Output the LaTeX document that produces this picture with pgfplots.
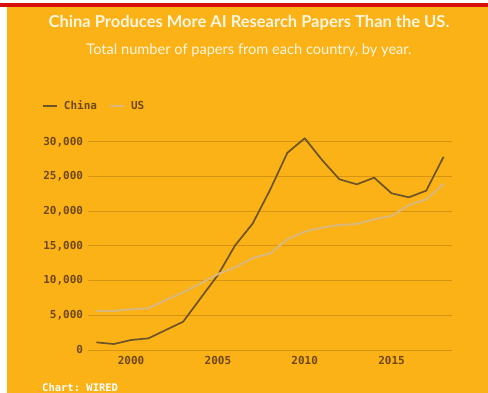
\documentclass[border=0pt]{standalone}
\usepackage{fontspec}
\setmainfont{Lato}
\setmonofont{DejaVu Sans Mono}
\usepackage{pgfplots}
\pgfplotsset{compat=1.18}
\definecolor{bgorange}{RGB}{250,178,22}
\definecolor{gridc}{RGB}{214,148,18}
\definecolor{tickc}{RGB}{112,72,22}
\definecolor{chinac}{RGB}{108,84,40}
\definecolor{usc}{RGB}{218,184,124}
\definecolor{redbar}{RGB}{214,16,10}
\definecolor{titlec}{RGB}{255,246,226}
\begin{document}
\begin{tikzpicture}[x=1pt,y=1pt]
\path[use as bounding box] (0,0) rectangle (488,393);
\fill[white] (0,0) rectangle (488,393);
\fill[bgorange] (7,0) rectangle (488,386);
\fill[redbar] (0,386) rectangle (488,389.5);
\node[text=titlec, font=\bfseries\fontsize{16.5}{19}\selectfont] at (249,370.3) {China Produces More AI Research Papers Than the US.};
\node[text=titlec, font=\fontsize{14.6}{17}\selectfont] at (249,342.3) {Total number of papers from each country, by year.};
\node[text=white, font=\ttfamily\bfseries\fontsize{10.5}{12}\selectfont, anchor=west, inner sep=0pt] at (42,5.3) {Chart: WIRED};
\begin{axis}[
  at={(87.7pt,43pt)}, anchor=south west, scale only axis,
  width=364.6pt, height=208.3pt,
  xmin=1997.5, xmax=2018.5, ymin=0, ymax=30000,
  clip=false,
  axis line style={draw=none},
  major tick length=0pt,
  xtick={2000,2005,2010,2015},
  ytick={0,5000,10000,15000,20000,25000,30000},
  ymajorgrids, grid style={color=gridc, line width=0.8pt},
  scaled y ticks=false,
  /pgf/number format/assume math mode=true,
  ticklabel style={font=\ttfamily\bfseries\fontsize{11}{13}\selectfont, text=tickc},
  yticklabel style={anchor=east, inner sep=0pt, xshift=-4.5pt, /pgf/number format/1000 sep={,}},
  xticklabel style={anchor=north, inner sep=0pt, yshift=-6.5pt, /pgf/number format/1000 sep={}},
  legend columns=2,
  legend style={at={(-0.1253,1.1728)}, anchor=west, draw=none, fill=none,
    font=\ttfamily\bfseries\fontsize{11}{13}\selectfont, text=tickc,
    inner sep=0pt, column sep=0pt,
    /tikz/every odd column/.append style={column sep=4pt},
    /tikz/every even column/.append style={column sep=10pt}},
  legend image code/.code={\draw[#1] (0pt,0pt) -- (14pt,0pt);},
]
\addplot[color=chinac, line width=1.7pt, line join=round] coordinates {
(1998,1100) (1999,860) (2000,1440) (2001,1680) (2002,2880) (2003,4080)
(2004,7450) (2005,10800) (2006,15100) (2007,18200) (2008,23040) (2009,28400)
(2010,30490) (2011,27360) (2012,24580) (2013,23860) (2014,24820) (2015,22570)
(2016,21990) (2017,22950) (2018,27840)};
\addlegendentry{China}
\addplot[color=usc, line width=2pt, line join=round] coordinates {
(1998,5620) (1999,5620) (2000,5860) (2001,6000) (2002,7200) (2003,8300)
(2004,9600) (2005,10940) (2006,11900) (2007,13250) (2008,13900) (2009,15940)
(2010,17040) (2011,17620) (2012,18000) (2013,18150) (2014,18820) (2015,19300)
(2016,20880) (2017,21700) (2018,23900)};
\addlegendentry{US}
\end{axis}
\end{tikzpicture}
\end{document}
